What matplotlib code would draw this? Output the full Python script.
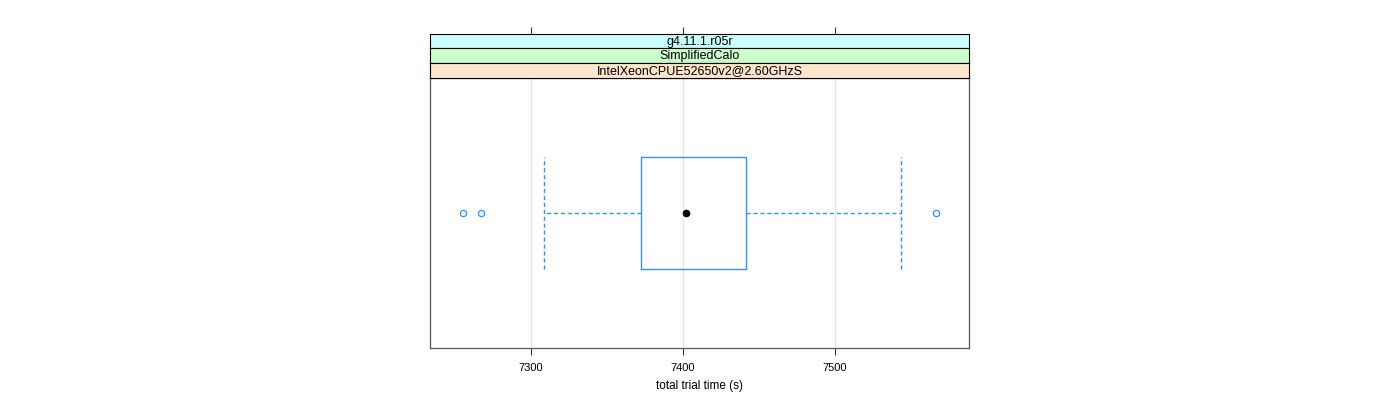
import matplotlib
matplotlib.use("Agg")
import matplotlib.pyplot as plt

plt.rcParams['font.family'] = ['Liberation Sans', 'DejaVu Sans']

# data
strip_labels = ["g4.11.1.r05r", "SimplifiedCalo", "IntelXeonCPUE52650v2@2.60GHzS"]
strip_colors = ["#ccffff", "#ccffcc", "#ffe5cc"]
q1, median, q3 = 7372.4, 7402.0, 7441.4
whisker_lo, whisker_hi = 7308.6, 7543.4
outliers = [7255.3, 7267.1, 7566.4]
xticks = [7300, 7400, 7500]
xlim = (7233.6, 7588.2)

blue = "#3392ff"
fig = plt.figure(figsize=(14, 4), dpi=100)
left, width = 430/1400, (969-430)/1400
ax = fig.add_axes([left, 1-348/400, width, (348-78)/400])
ax.set_xlim(*xlim)
ax.set_ylim(0.4, 1.6)

stats = [dict(med=median, q1=q1, q3=q3, whislo=whisker_lo, whishi=whisker_hi,
              fliers=outliers)]
ax.bxp(stats, positions=[1], vert=False, widths=0.5, capwidths=0.5,
       boxprops=dict(color=blue, linewidth=1),
       whiskerprops=dict(color=blue, linestyle=(0, (3, 2)), linewidth=1),
       capprops=dict(color=blue, linestyle=(0, (3, 2)), linewidth=1),
       medianprops=dict(visible=False),
       flierprops=dict(marker='o', markerfacecolor='none', markeredgecolor=blue,
                       markersize=4.5, markeredgewidth=0.9),
       zorder=3)
ax.plot([median], [1], 'o', color='black', markersize=4.5, zorder=4)

for xt in xticks:
    ax.axvline(xt, color="#e6e6e6", linewidth=1, zorder=0)
ax.set_xticks(xticks)
ax.set_xticklabels([str(t) for t in xticks], fontsize=8)
ax.set_yticks([])
ax.tick_params(axis='x', length=5, width=0.8, color='#333333', pad=6)
for s in ax.spines.values():
    s.set_color('#555555')
    s.set_linewidth(0.9)
ax.set_xlabel("total trial time (s)", fontsize=8.5, labelpad=5)

# strips
tops = [34, 48, 63, 78]
for i, (lab, col) in enumerate(zip(strip_labels, strip_colors)):
    y0, y1 = tops[i], tops[i+1]
    sax = fig.add_axes([left, 1-y1/400, width, (y1-y0)/400])
    sax.set_xlim(*xlim)
    sax.set_facecolor(col)
    sax.set_yticks([])
    if i == 0:
        sax.set_xticks(xticks)
        sax.xaxis.tick_top()
        sax.set_xticklabels([])
        sax.tick_params(axis='x', length=5, width=0.8, color='#333333')
    else:
        sax.set_xticks([])
    for s in sax.spines.values():
        s.set_color('black')
        s.set_linewidth(0.8)
    sax.text(0.5, 0.45, lab, transform=sax.transAxes, ha='center', va='center',
             fontsize=9)

fig.savefig("out.png", dpi=100)
